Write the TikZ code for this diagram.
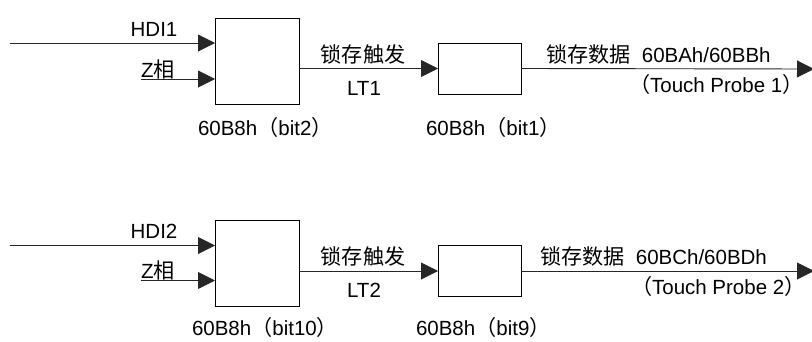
\documentclass[tikz,border=0pt]{standalone}
\usepackage{fontspec}
\setmainfont{Liberation Sans}
\newfontfamily\cjk[Scale=1.03]{Noto Sans CJK SC}
\usetikzlibrary{arrows.meta}
\begin{document}
\begin{tikzpicture}[x=1pt,y=-1pt,
  box/.style={draw=black,line width=0.9pt,minimum width=#1,inner sep=0pt,outer sep=0pt},
  wire/.style={draw=black!85,line width=0.9pt},
  arr/.style={wire,-{Triangle[length=17pt,width=17pt]}},
  lbl/.style={inner sep=0pt,outer sep=0pt,font=\fontsize{20.5}{23}\selectfont},
]
\useasboundingbox (0,0) rectangle (812,341);

% ---------- row 1 ----------
\node[box=84pt,minimum height=86pt] (b1) at (257,61) {};
\node[box=83pt,minimum height=51pt] (b2) at (479.5,68.5) {};
\coordinate (h1) at (10,43);
\coordinate (z1) at (141,79);
\coordinate (o1) at (814,69);
\draw[arr] (h1) -- (h1 -| b1.west);
\draw[arr] (z1) -- (z1 -| b1.west);
\draw[arr] (b1.east |- b2.west) -- (b2.west);
\draw[arr] (b2.east) -- (o1);

\node[lbl,anchor=base] (th1) at (154,36) {HDI1};
\node[lbl,anchor=base west] (tz1) at (141,77) {Z{\cjk 相}};
\node[lbl,anchor=base] (tt1) at (363,62) {\cjk 锁存触发};
\node[lbl,anchor=base] (tl1) at (364,95) {LT1};
\node[lbl,anchor=base west] (ta1) at (198,135.5) {60B8h{\cjk （}bit2{\cjk ）}};
\node[lbl,anchor=base west] (tb1) at (426,135.5) {60B8h{\cjk （}bit1{\cjk ）}};
\node[lbl,anchor=base west] (td1) at (546,62) {{\cjk 锁存数据}\ \ 60BAh/60BBh};
\node[lbl,anchor=base west] (tp1) at (629,92) {{\cjk （}Touch Probe 1{\cjk ）}};

% ---------- row 2 ----------
\node[box=84pt,minimum height=86pt] (c1) at (257,263) {};
\node[box=83pt,minimum height=51pt] (c2) at (479.5,271) {};
\coordinate (h2) at (10,245.5);
\coordinate (z2) at (141,280.5);
\coordinate (o2) at (814,271);
\draw[arr] (h2) -- (h2 -| c1.west);
\draw[arr] (z2) -- (z2 -| c1.west);
\draw[arr] (c1.east |- c2.west) -- (c2.west);
\draw[arr] (c2.east) -- (o2);

\node[lbl,anchor=base] (th2) at (154,238) {HDI2};
\node[lbl,anchor=base west] (tz2) at (141,278.5) {Z{\cjk 相}};
\node[lbl,anchor=base] (tt2) at (363,264) {\cjk 锁存触发};
\node[lbl,anchor=base] (tl2) at (364,297.5) {LT2};
\node[lbl,anchor=base west] (ta2) at (192,335.5) {60B8h{\cjk （}bit10{\cjk ）}};
\node[lbl,anchor=base west] (tb2) at (416,335.5) {60B8h{\cjk （}bit9{\cjk ）}};
\node[lbl,anchor=base west] (td2) at (540,264) {{\cjk 锁存数据}\ \ 60BCh/60BDh};
\node[lbl,anchor=base west] (tp2) at (631,294) {{\cjk （}Touch Probe 2{\cjk ）}};
\end{tikzpicture}
\end{document}
